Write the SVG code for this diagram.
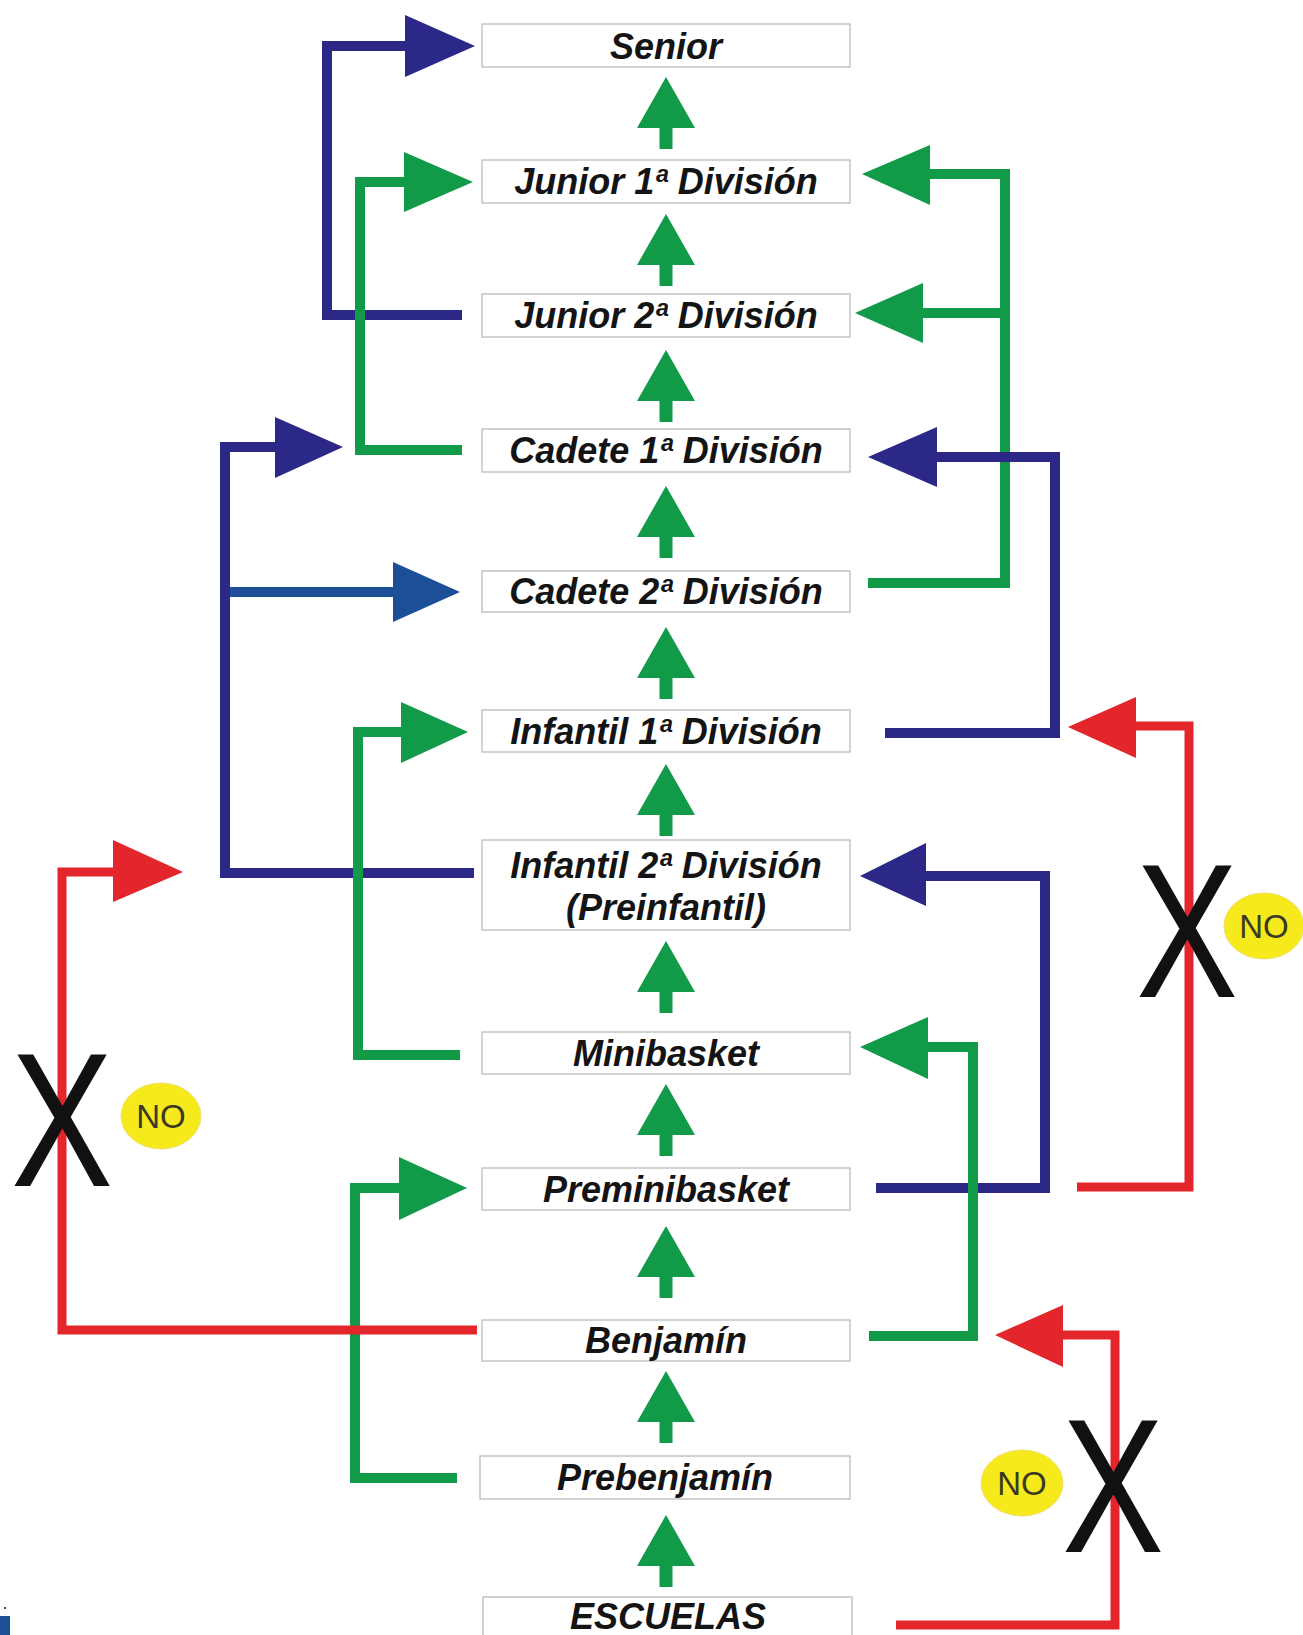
<svg xmlns="http://www.w3.org/2000/svg" width="1303" height="1635" viewBox="0 0 1303 1635">
<style>
.box{fill:#fff;stroke:#c4c4c4;stroke-width:1.5}
.lbl{font-family:"Liberation Sans",Arial,sans-serif;font-weight:bold;font-style:italic;font-size:36px;fill:#141414;text-anchor:middle}
.ln{fill:none;stroke-width:10;stroke-linejoin:miter;stroke-linecap:butt}
.navy{stroke:#2b2887}
.navyf{fill:#2b2887}
.blue{stroke:#1d4f97}
.bluef{fill:#1d4f97}
.grn{stroke:#119a48}
.grnf{fill:#119a48}
.red{stroke:#e3262b;stroke-width:9}
.redf{fill:#e3262b}
.x{font-family:"Liberation Sans",Arial,sans-serif;font-size:191px;fill:#111;text-anchor:middle}
.no{fill:#f7ea1c;stroke:#efe070;stroke-width:1}
.not{font-family:"Liberation Sans",Arial,sans-serif;font-size:33px;fill:#3a3a22;text-anchor:middle}
</style>
<defs>
<path id="up" d="M0,0 L29,51 L6.5,51 L6.5,72 L-6.5,72 L-6.5,51 L-29,51 Z" fill="#119a48"/>
</defs>
<rect width="1303" height="1635" fill="#fff"/>

<g id="connectors">
  <use href="#up" x="666" y="77"/>
  <use href="#up" x="666" y="214"/>
  <use href="#up" x="666" y="350"/>
  <use href="#up" x="666" y="486"/>
  <use href="#up" x="666" y="627"/>
  <use href="#up" x="666" y="764"/>
  <use href="#up" x="666" y="941"/>
  <use href="#up" x="666" y="1084"/>
  <use href="#up" x="666" y="1226"/>
  <use href="#up" x="666" y="1371"/>
  <use href="#up" x="666" y="1515"/>

  <path class="ln navy" d="M462,315 H327 V46 H410"/>
  <polygon class="navyf" points="405,15 475,46 405,77"/>

  <path class="ln grn" d="M462,450 H360 V182 H410"/>
  <polygon class="grnf" points="404,152 473,182 404,212"/>

  <path class="ln grn" d="M868,583 H1005 V174 H925 M1005,313 H918"/>
  <polygon class="grnf" points="930,145 862,174 930,205"/>
  <polygon class="grnf" points="923,283 855,313 923,343"/>

  <path class="ln navy" d="M474,873 H225 V447 H280"/>
  <polygon class="navyf" points="275,417 343,447 275,478"/>
  <path class="ln blue" d="M230,592 H398"/>
  <polygon class="bluef" points="393,562 460,592 393,622"/>

  <path class="ln navy" d="M885,733 H1055 V457 H932"/>
  <polygon class="navyf" points="937,427 868,457 937,487"/>

  <path class="ln grn" d="M460,1055 H358 V732 H405"/>
  <polygon class="grnf" points="401,702 468,732 401,763"/>

  <path class="ln navy" d="M876,1188 H1045 V876 H920"/>
  <polygon class="navyf" points="926,843 860,876 926,906"/>

  <path class="ln red" d="M1077,1187 H1189 V726 H1131"/>
  <polygon class="redf" points="1136,697 1068,727 1136,758"/>

  <path class="ln grn" d="M869,1336 H973 V1047 H923"/>
  <polygon class="grnf" points="928,1017 860,1047 928,1079"/>

  <path class="ln grn" d="M457,1478 H355 V1188 H404"/>
  <polygon class="grnf" points="399,1157 467,1188 399,1220"/>

  <path class="ln red" d="M477,1330 H62 V872 H118"/>
  <polygon class="redf" points="113,840 183,872 113,902"/>

  <path class="ln red" d="M896,1625 H1115 V1335 H1058"/>
  <polygon class="redf" points="1063,1305 995,1335 1063,1367"/>
</g>

<g id="no-marks">
  <g id="no-right">
    <text class="x" transform="translate(1187,997) scale(0.8,1)">X</text>
    <ellipse class="no" cx="1264" cy="926" rx="40" ry="33"/>
    <text class="not" x="1264" y="938">NO</text>
  </g>
  <g id="no-left">
    <text class="x" transform="translate(62,1186) scale(0.8,1)">X</text>
    <ellipse class="no" cx="161" cy="1116" rx="40" ry="33"/>
    <text class="not" x="161" y="1128">NO</text>
  </g>
  <g id="no-bottom">
    <text class="x" transform="translate(1113,1552) scale(0.8,1)">X</text>
    <ellipse class="no" cx="1022" cy="1483" rx="41" ry="33"/>
    <text class="not" x="1022" y="1495">NO</text>
  </g>
</g>

<g id="senior"><rect class="box" x="482" y="24" width="368" height="43"/><text class="lbl" x="666" y="59">Senior</text></g>
<g id="junior1"><rect class="box" x="482" y="160" width="368" height="43"/><text class="lbl" x="666" y="194">Junior 1ª División</text></g>
<g id="junior2"><rect class="box" x="482" y="294" width="368" height="43"/><text class="lbl" x="666" y="328">Junior 2ª División</text></g>
<g id="cadete1"><rect class="box" x="482" y="429" width="368" height="43"/><text class="lbl" x="666" y="463">Cadete 1ª División</text></g>
<g id="cadete2"><rect class="box" x="482" y="571" width="368" height="41"/><text class="lbl" x="666" y="604">Cadete 2ª División</text></g>
<g id="infantil1"><rect class="box" x="482" y="710" width="368" height="42"/><text class="lbl" x="666" y="744">Infantil 1ª División</text></g>
<g id="infantil2"><rect class="box" x="482" y="840" width="368" height="90"/><text class="lbl" x="666" y="878">Infantil 2ª División</text><text class="lbl" x="666" y="920">(Preinfantil)</text></g>
<g id="minibasket"><rect class="box" x="482" y="1032" width="368" height="42"/><text class="lbl" x="666" y="1066">Minibasket</text></g>
<g id="preminibasket"><rect class="box" x="482" y="1168" width="368" height="42"/><text class="lbl" x="666" y="1202">Preminibasket</text></g>
<g id="benjamin"><rect class="box" x="482" y="1320" width="368" height="41"/><text class="lbl" x="666" y="1353">Benjamín</text></g>
<g id="prebenjamin"><rect class="box" x="480" y="1456" width="370" height="43"/><text class="lbl" x="665" y="1490">Prebenjamín</text></g>
<g id="escuelas"><rect class="box" x="483" y="1597" width="369" height="48"/><text class="lbl" x="668" y="1629">ESCUELAS</text></g>

<rect x="0" y="1616" width="10" height="19" fill="#1d4f97"/>
<rect x="4" y="1607" width="2" height="2" fill="#1d4f97"/>
</svg>
